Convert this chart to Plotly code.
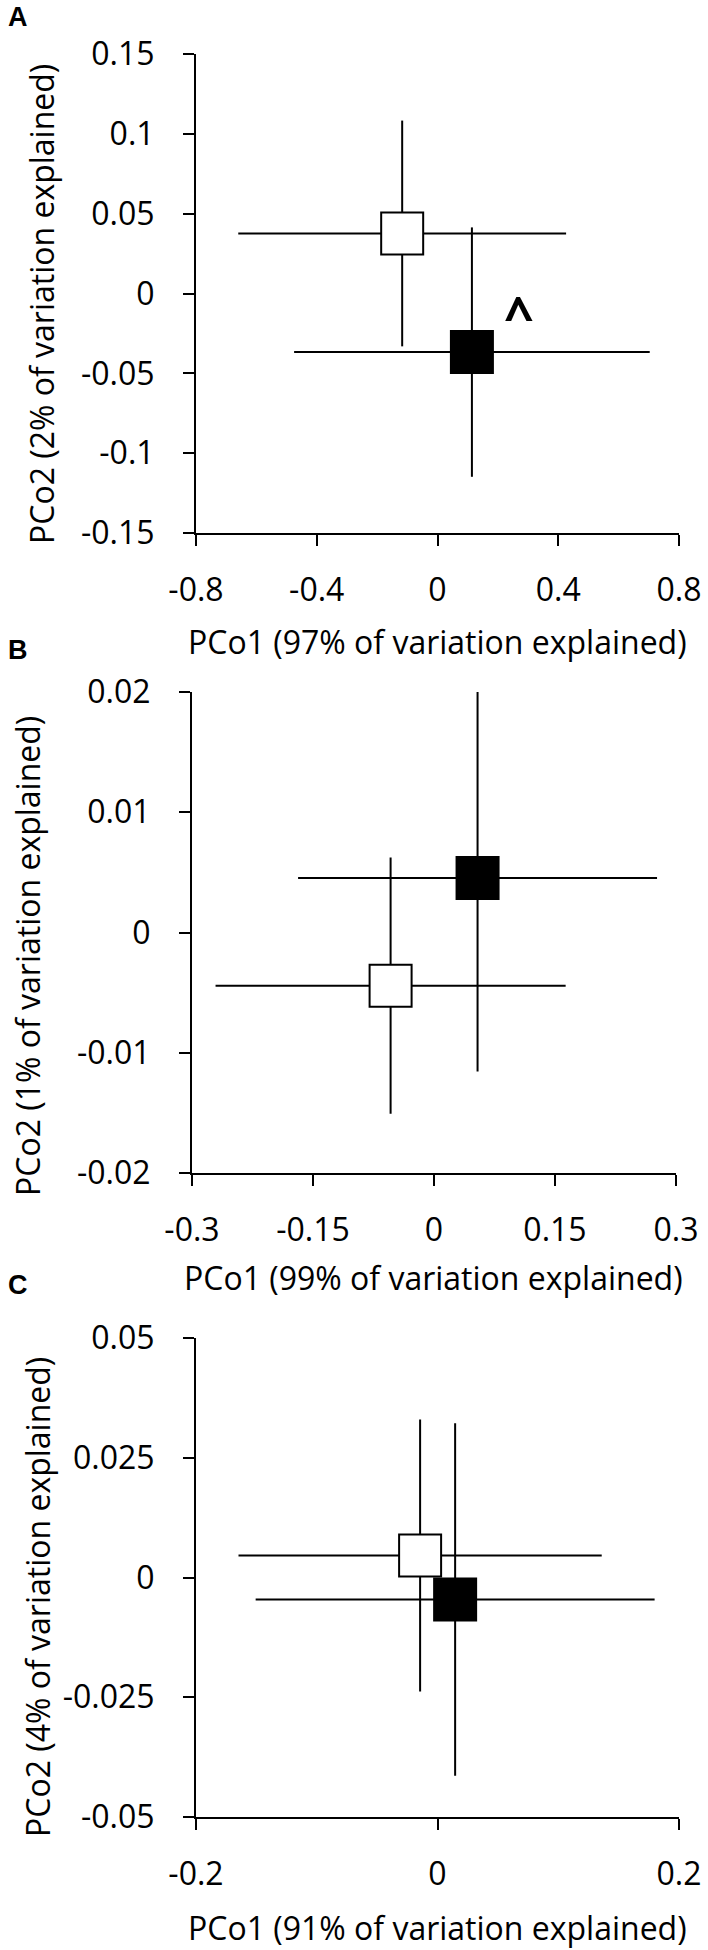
import plotly.graph_objects as go

# ---------------- data ----------------
groups = ["white", "black"]

# Panel A
a_x = [-0.117, 0.114]
a_y = [0.0376, -0.0367]
a_xerr = [0.543, 0.589]
a_yerr = [0.0707, 0.0781]
a_xticks = [-0.8, -0.4, 0, 0.4, 0.8]
a_xticklabels = ["-0.8", "-0.4", "0", "0.4", "0.8"]
a_yticks = [-0.15, -0.1, -0.05, 0, 0.05, 0.1, 0.15]
a_yticklabels = ["-0.15", "-0.1", "-0.05", "0", "0.05", "0.1", "0.15"]
a_sig_x = [0.2716]
a_sig_y = [-0.0125]
a_sig_text = ["^"]

# Panel B
b_x = [-0.0538, 0.054]
b_y = [-0.00442, 0.00454]
b_xerr = [0.217, 0.2225]
b_yerr = [0.01065, 0.0161]
b_xticks = [-0.3, -0.15, 0, 0.15, 0.3]
b_xticklabels = ["-0.3", "-0.15", "0", "0.15", "0.3"]
b_yticks = [-0.02, -0.01, 0, 0.01, 0.02]
b_yticklabels = ["-0.02", "-0.01", "0", "0.01", "0.02"]

# Panel C
c_x = [-0.0144, 0.0146]
c_y = [0.0046, -0.00458]
c_xerr = [0.1504, 0.1652]
c_yerr = [0.0284, 0.0368]
c_xticks = [-0.2, 0, 0.2]
c_xticklabels = ["-0.2", "0", "0.2"]
c_yticks = [-0.05, -0.025, 0, 0.025, 0.05]
c_yticklabels = ["-0.05", "-0.025", "0", "0.025", "0.05"]

x_titles = ["PCo1 (97% of variation explained)",
            "PCo1 (99% of variation explained)",
            "PCo1 (91% of variation explained)"]
y_titles = ["PCo2 (2% of variation explained)",
            "PCo2 (1% of variation explained)",
            "PCo2 (4% of variation explained)"]
panel_letters = ["A", "B", "C"]

# ---------------- layout helpers ----------------
W, H = 708, 1950
def fx(px):
    return px / W
def fy(py):
    return 1 - py / H

fills = ["white", "black"]
FONT = "Open Sans"

fig = go.Figure()

panels = [
    dict(x=a_x, y=a_y, xe=a_xerr, ye=a_yerr, xr=[-0.8, 0.8], yr=[-0.15, 0.15],
         xt=a_xticks, xtl=a_xticklabels, yt=a_yticks, ytl=a_yticklabels,
         dom_x=(196, 679), dom_y=(54, 533), xtitle_y=641, ytitle_x=42, ytitle_y=304,
         letter_y=17),
    dict(x=b_x, y=b_y, xe=b_xerr, ye=b_yerr, xr=[-0.3, 0.3], yr=[-0.02, 0.02],
         xt=b_xticks, xtl=b_xticklabels, yt=b_yticks, ytl=b_yticklabels,
         dom_x=(192, 676), dom_y=(692, 1173), xtitle_y=1277, ytitle_x=28, ytitle_y=956,
         letter_y=650),
    dict(x=c_x, y=c_y, xe=c_xerr, ye=c_yerr, xr=[-0.2, 0.2], yr=[-0.05, 0.05],
         xt=c_xticks, xtl=c_xticklabels, yt=c_yticks, ytl=c_yticklabels,
         dom_x=(196, 679), dom_y=(1338, 1817), xtitle_y=1927, ytitle_x=37, ytitle_y=1597,
         letter_y=1285),
]

annotations = []
for i, p in enumerate(panels):
    n = "" if i == 0 else str(i + 1)
    xa, ya = "x" + n, "y" + n
    for g in range(2):
        fig.add_trace(go.Scatter(
            x=[p["x"][g]], y=[p["y"][g]], xaxis=xa, yaxis=ya,
            mode="markers", showlegend=False,
            marker=dict(symbol="square", size=42, color=fills[g],
                        line=dict(color="black", width=2)),
            error_x=dict(type="data", array=[p["xe"][g]], color="black",
                         thickness=2, width=0),
            error_y=dict(type="data", array=[p["ye"][g]], color="black",
                         thickness=2, width=0),
        ))
    axis_common = dict(showline=True, linewidth=2, linecolor="black",
                       ticks="outside", ticklen=11, tickwidth=2, tickcolor="black",
                       showgrid=False, zeroline=False, automargin=False,
                       tickfont=dict(family=FONT, size=32, color="black"))
    fig.layout["xaxis" + n] = dict(
        axis_common, domain=[fx(p["dom_x"][0]), fx(p["dom_x"][1])],
        range=p["xr"], tickmode="array", tickvals=p["xt"], ticktext=p["xtl"],
        anchor=ya, ticklabelstandoff=17)
    fig.layout["yaxis" + n] = dict(
        axis_common, domain=[fy(p["dom_y"][1]), fy(p["dom_y"][0])],
        range=p["yr"], tickmode="array", tickvals=p["yt"], ticktext=p["ytl"],
        anchor=xa, ticklabelstandoff=22)
    cx = (p["dom_x"][0] + p["dom_x"][1]) / 2
    annotations.append(dict(x=fx(cx), y=fy(p["xtitle_y"]), xref="paper", yref="paper",
                            text=x_titles[i], showarrow=False, xanchor="center",
                            yanchor="middle",
                            font=dict(family=FONT, size=32, color="black")))
    annotations.append(dict(x=fx(p["ytitle_x"]), y=fy(p["ytitle_y"]), xref="paper",
                            yref="paper", text=y_titles[i], showarrow=False,
                            textangle=-90, xanchor="center", yanchor="middle",
                            font=dict(family=FONT, size=32, color="black")))
    annotations.append(dict(x=fx(18), y=fy(p["letter_y"]), xref="paper", yref="paper",
                            text="<b>" + panel_letters[i] + "</b>", showarrow=False,
                            xanchor="center", yanchor="middle",
                            font=dict(family="Liberation Sans", size=27, color="black")))

for sx, sy, st in zip(a_sig_x, a_sig_y, a_sig_text):
    annotations.append(dict(x=sx, y=sy, xref="x", yref="y", text="<b>" + st + "</b>",
                            showarrow=False, xanchor="center", yanchor="middle",
                            font=dict(family=FONT, size=52, color="black")))

fig.update_layout(width=W, height=H, autosize=False,
                  margin=dict(l=0, r=0, t=0, b=0, pad=0),
                  paper_bgcolor="white", plot_bgcolor="white",
                  annotations=annotations)

page_fix = ("document.body.style.margin='0px';"
            "document.body.style.padding='0px';"
            "document.body.style.overflow='hidden';"
            "document.documentElement.style.overflow='hidden';")

fig.write_html("out.html", config={"responsive": False, "displayModeBar": False},
               post_script=page_fix)
